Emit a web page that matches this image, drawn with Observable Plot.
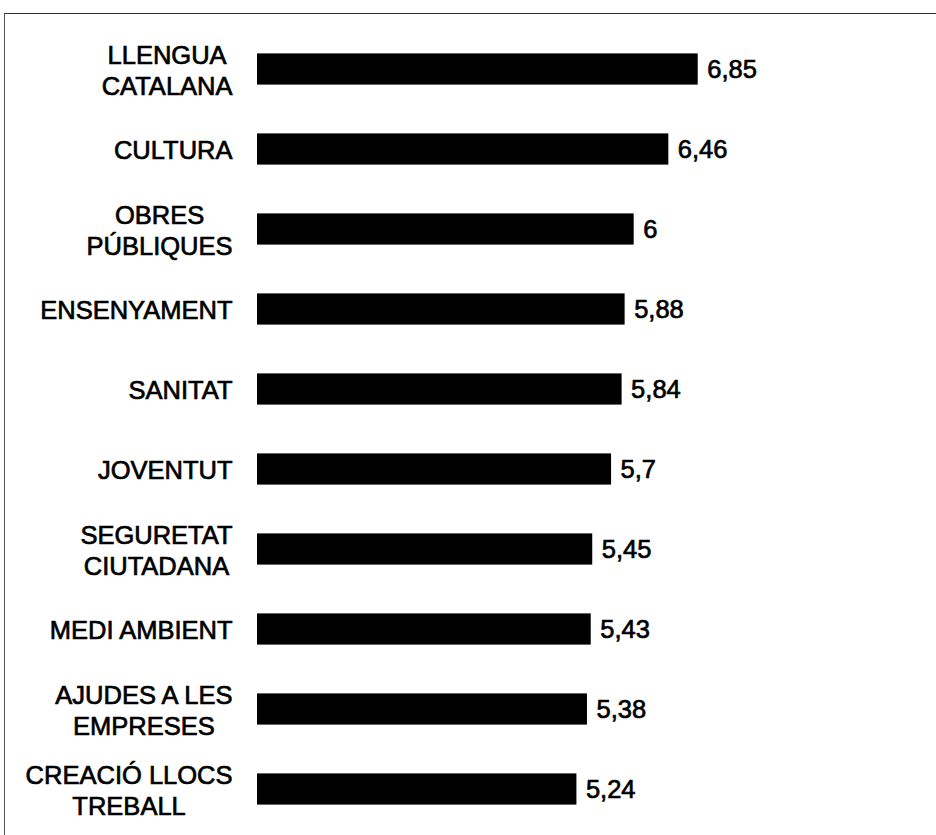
<!DOCTYPE html>
<html>
<head>
<meta charset="utf-8">
<script src="https://cdn.jsdelivr.net/npm/d3@7"></script>
<script src="https://cdn.jsdelivr.net/npm/@observablehq/plot@0.6"></script>
<style>
  html, body { margin: 0; padding: 0; background: #fff; }
  #wrap { position: relative; width: 936px; height: 835px; overflow: hidden; }
  #frame { position: absolute; left: 4px; top: 13px; right: -2px; bottom: -2px;
           border-top: 1.5px solid #333; border-left: 1.5px solid #555; pointer-events: none; }
  #wrap svg text { stroke: #000; stroke-width: 0.7px; }
</style>
</head>
<body>
<div id="wrap"><div id="frame"></div></div>
<script>
const categories = ["LLENGUA\nCATALANA", "CULTURA", "OBRES\nPÚBLIQUES", "ENSENYAMENT", "SANITAT",
  "JOVENTUT", "SEGURETAT\nCIUTADANA", "MEDI AMBIENT", "AJUDES A LES\nEMPRESES", "CREACIÓ LLOCS\nTREBALL"];
const values = [6.85, 6.46, 6, 5.88, 5.84, 5.7, 5.45, 5.43, 5.38, 5.24];
const valueLabels = ["6,85", "6,46", "6", "5,88", "5,84", "5,7", "5,45", "5,43", "5,38", "5,24"];
const scaleMin = 1, scaleMax = 10;

const data = categories.map((c, i) => ({cat: c, value: values[i], label: valueLabels[i]}));
const font = "'Liberation Sans', Arial, Helvetica, sans-serif";

const chart = Plot.plot({
  width: 936,
  height: 835,
  marginLeft: 257,
  marginRight: 1,
  marginTop: 25,
  marginBottom: 2,
  style: {fontFamily: font, background: "white", color: "black"},
  x: {domain: [scaleMin, scaleMax], axis: null},
  y: {domain: categories, padding: 0, axis: null},
  marks: [
    Plot.barX(data, {y: "cat", x1: scaleMin, x2: "value", fill: "black", insetTop: 24.4, insetBottom: 24.4}),
    Plot.text(data, {y: "cat", text: "cat", frameAnchor: "left", dx: -25, textAnchor: "end",
      fontSize: 25.5, lineHeight: 1.2, fill: "black"}),
    Plot.text(data, {y: "cat", x: "value", text: "label", dx: 9, textAnchor: "start",
      fontSize: 25.5, fill: "black"})
  ]
});
chart.style.position = "absolute";
chart.style.left = "0px";
chart.style.top = "0px";
const wrap = document.getElementById("wrap");
wrap.insertBefore(chart, wrap.firstChild);

// center the lines of multi-line labels within their right-aligned block
chart.querySelectorAll("text").forEach(t => {
  const spans = t.querySelectorAll("tspan");
  if (spans.length > 1) {
    let maxW = 0;
    spans.forEach(s => { maxW = Math.max(maxW, s.getComputedTextLength()); });
    t.setAttribute("text-anchor", "middle");
    const tr = t.getAttribute("transform") || "";
    t.setAttribute("transform", tr + ` translate(${-maxW / 2},0)`);
  }
});
</script>
</body>
</html>
